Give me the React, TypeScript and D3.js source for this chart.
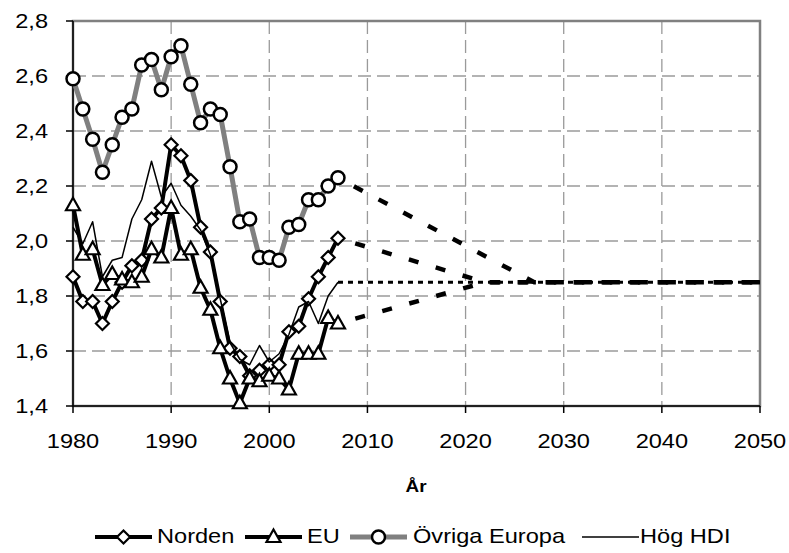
import React from "react";
import * as d3 from "d3";

const years = [1980, 1981, 1982, 1983, 1984, 1985, 1986, 1987, 1988, 1989, 1990, 1991, 1992, 1993, 1994, 1995, 1996, 1997, 1998, 1999, 2000, 2001, 2002, 2003, 2004, 2005, 2006, 2007];
const norden = [1.87, 1.78, 1.78, 1.70, 1.78, 1.85, 1.91, 1.93, 2.08, 2.12, 2.35, 2.31, 2.22, 2.05, 1.96, 1.78, 1.61, 1.58, 1.51, 1.53, 1.55, 1.55, 1.67, 1.69, 1.79, 1.87, 1.94, 2.01];
const eu = [2.13, 1.95, 1.97, 1.84, 1.88, 1.86, 1.85, 1.87, 1.97, 1.94, 2.12, 1.95, 1.97, 1.83, 1.75, 1.61, 1.50, 1.41, 1.50, 1.49, 1.51, 1.50, 1.46, 1.59, 1.59, 1.59, 1.72, 1.70];
const ovriga = [2.59, 2.48, 2.37, 2.25, 2.35, 2.45, 2.48, 2.64, 2.66, 2.55, 2.67, 2.71, 2.57, 2.43, 2.48, 2.46, 2.27, 2.07, 2.08, 1.94, 1.94, 1.93, 2.05, 2.06, 2.15, 2.15, 2.20, 2.23];
const hogHdi = [2.05, 1.99, 2.07, 1.87, 1.93, 1.94, 2.08, 2.15, 2.29, 2.16, 2.21, 2.13, 2.09, 2.04, 1.95, 1.79, 1.63, 1.57, 1.55, 1.62, 1.56, 1.59, 1.66, 1.76, 1.78, 1.70, 1.80, 1.85];

// projections: [year, value]
const nordenProj: [number, number][] = [[2007, 2.01], [2022, 1.85], [2050, 1.85]];
const euProj: [number, number][] = [[2007, 1.70], [2022, 1.85], [2050, 1.85]];
const ovrigaProj: [number, number][] = [[2007, 2.23], [2027, 1.85], [2050, 1.85]];
const hogHdiProj: [number, number][] = [[2007, 1.85], [2050, 1.85]];

const yTicks = [1.4, 1.6, 1.8, 2.0, 2.2, 2.4, 2.6, 2.8];
const xTicks = [1980, 1990, 2000, 2010, 2020, 2030, 2040, 2050];
const legendLabels = ["Norden", "EU", "Övriga Europa", "Hög HDI"];

const W = 789, H = 553;
const L = 73, R = 760, T = 21, B = 406;
const x = d3.scaleLinear().domain([1980, 2050]).range([L, R]);
const y = d3.scaleLinear().domain([1.4, 2.8]).range([B, T]);
const FONT = "'Liberation Sans', Arial, sans-serif";
const SX = 1.18;

const line = d3.line<[number, number]>().x(d => x(d[0])).y(d => y(d[1]));
const toPts = (vals: number[]) => years.map((yr, i) => [yr, vals[i]] as [number, number]);

const diamond = "M0,-6.5L6.5,0L0,6.5L-6.5,0Z";
const triangle = "M0,-7.5L7,5L-7,5Z";

function Txt({ tx, ty, anchor = "start", size = 20, weight = "normal", children }: any) {
  return (
    <text transform={`translate(${tx},${ty}) scale(${SX},1)`} textAnchor={anchor}
      fontFamily={FONT} fontSize={size} fontWeight={weight} fill="#000">{children}</text>
  );
}

function Marker({ kind, cx, cy }: { kind: string; cx: number; cy: number }) {
  if (kind === "circle") return <circle cx={cx} cy={cy} r={6.5} fill="#fff" stroke="#000" strokeWidth={2.5} />;
  if (kind === "diamond") return <path d={diamond} transform={`translate(${cx},${cy})`} fill="#fff" stroke="#000" strokeWidth={2.2} />;
  if (kind === "triangle") return <path d={triangle} transform={`translate(${cx},${cy})`} fill="#fff" stroke="#000" strokeWidth={2.2} />;
  return null;
}

export default function App() {
  const series = [
    { name: legendLabels[0], vals: norden, color: "#000", width: 4, marker: "diamond" },
    { name: legendLabels[1], vals: eu, color: "#000", width: 4, marker: "triangle" },
    { name: legendLabels[2], vals: ovriga, color: "#808080", width: 5, marker: "circle" },
    { name: legendLabels[3], vals: hogHdi, color: "#000", width: 1.5, marker: "none" },
  ];
  const legendItems = [
    { lx: 95, tx: 157 },
    { lx: 245, tx: 307 },
    { lx: 350, tx: 413 },
    { lx: 582, tx: 640 },
  ];
  return (
    <svg width={W} height={H} style={{ position: "absolute", left: 0, top: 0, background: "#fff" }}>
      <rect x={0} y={0} width={W} height={H} fill="#fff" />
      {/* gridlines */}
      {yTicks.slice(1, -1).map(t => (
        <line key={"gy" + t} x1={L} x2={R} y1={y(t)} y2={y(t)} stroke="#9a9a9a" strokeWidth={1.3} strokeDasharray="13,6" />
      ))}
      {xTicks.slice(1, -1).map(t => (
        <line key={"gx" + t} x1={x(t)} x2={x(t)} y1={T} y2={B} stroke="#9a9a9a" strokeWidth={1.3} strokeDasharray="13,6" />
      ))}
      {/* frame */}
      <rect x={L} y={T} width={R - L} height={B - T} fill="none" stroke="#808080" strokeWidth={2.5} />
      <line x1={L} x2={L} y1={T} y2={B} stroke="#000" strokeWidth={1.5} />
      <line x1={L} x2={R} y1={B} y2={B} stroke="#000" strokeWidth={1.5} />
      {yTicks.map(t => (
        <g key={"ty" + t}>
          <line x1={L - 7} x2={L} y1={y(t)} y2={y(t)} stroke="#000" strokeWidth={1.5} />
          <Txt tx={48} ty={y(t) + 7} anchor="end">{d3.format(".1f")(t).replace(".", ",")}</Txt>
        </g>
      ))}
      {xTicks.map(t => (
        <g key={"tx" + t}>
          <line x1={x(t)} x2={x(t)} y1={B} y2={B + 7} stroke="#000" strokeWidth={1.5} />
          <Txt tx={x(t)} ty={448} anchor="middle">{t}</Txt>
        </g>
      ))}
      <Txt tx={416} ty={492} anchor="middle" size={16} weight="bold">År</Txt>

      {/* projections */}
      <path d={line(hogHdiProj) || ""} fill="none" stroke="#000" strokeWidth={3} strokeDasharray="5,5" />
      <path d={line(ovrigaProj) || ""} fill="none" stroke="#000" strokeWidth={4.5} strokeDasharray="10,18" strokeDashoffset={-18} />
      <path d={line(nordenProj) || ""} fill="none" stroke="#000" strokeWidth={4.5} strokeDasharray="10,18" strokeDashoffset={-18} />
      <path d={line(euProj) || ""} fill="none" stroke="#000" strokeWidth={4.5} strokeDasharray="10,18" strokeDashoffset={-18} />

      {/* series */}
      {series.map(s => (
        <g key={s.name}>
          <path d={line(toPts(s.vals)) || ""} fill="none" stroke={s.color} strokeWidth={s.width} strokeLinejoin="round" />
          {s.marker !== "none" && s.vals.map((v, i) => (
            <Marker key={i} kind={s.marker} cx={x(years[i])} cy={y(v)} />
          ))}
        </g>
      ))}

      {/* legend */}
      {series.map((s, i) => {
        const it = legendItems[i];
        const ly = 537;
        return (
          <g key={"lg" + s.name}>
            <line x1={it.lx} x2={it.lx + 57} y1={ly} y2={ly} stroke={s.color} strokeWidth={s.width} />
            {s.marker !== "none" && <Marker kind={s.marker} cx={it.lx + 28.5} cy={ly} />}
            <Txt tx={it.tx} ty={543}>{s.name}</Txt>
          </g>
        );
      })}
    </svg>
  );
}
